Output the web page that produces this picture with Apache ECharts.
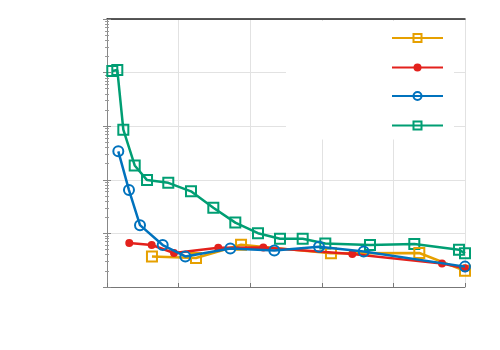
<!DOCTYPE html>
<html>
<head>
<meta charset="utf-8">
<script src="https://cdn.jsdelivr.net/npm/echarts@6/dist/echarts.min.js"></script>
<style>
  html, body { margin: 0; padding: 0; background: #fff; }
  #chart-container { width: 500px; height: 350px; }
</style>
</head>
<body>
<div id="chart-container"></div>
<script>
var dom = document.getElementById("chart-container");
var myChart = echarts.init(dom, null, { renderer: "canvas" });

// values (x on a 0..50 scale, y log)
const orangeX = [6.28, 12.43, 18.72, 31.28, 43.62, 50];
const orangeY = [0.00372, 0.00348, 0.00614, 0.00424, 0.00431, 0.0020];

const redX = [3.11, 6.24, 9.36, 15.54, 21.83, 34.26, 46.79, 50];
const redY = [0.00661, 0.00607, 0.00431, 0.00541, 0.00547, 0.00413, 0.00273, 0.00223];

const blueX = [1.58, 3.07, 4.61, 7.78, 10.94, 17.22, 23.37, 29.61, 35.85, 50];
const blueY = [0.340, 0.0644, 0.01426, 0.00607, 0.00372, 0.00525, 0.00482, 0.00564, 0.00461, 0.0024];

const greenX = [0.74, 1.44, 2.28, 3.87, 5.59, 8.56, 11.73, 14.85, 17.92, 21.09, 24.16, 27.33, 30.49, 36.73, 42.92, 49.16, 50];
const greenY = [10.7, 11.2, 0.861, 0.185, 0.0987, 0.0879, 0.0609, 0.0302, 0.0159, 0.0101, 0.00794, 0.00794, 0.0065, 0.00607, 0.00633, 0.00496, 0.00424];

const seriesNames = ["series 1", "series 2", "series 3", "series 4"];
const colors = ["#E6A000", "#E3211C", "#0072BD", "#009E73"];

const zip = (xs, ys) => xs.map((x, i) => [x, ys[i]]);

const hollow = (c) => ({ color: "rgba(255,255,255,0)", borderColor: c, borderWidth: 2 });

var option = {
  animation: false,
  grid: { left: 107, right: 35, top: 19, bottom: 63 },
  legend: {
    orient: "vertical",
    left: 286,
    top: 21,
    padding: [12, 10, 9, 105],
    backgroundColor: "#fff",
    itemWidth: 51,
    itemHeight: 10,
    itemGap: 19.5,
    formatter: () => "",
    data: seriesNames
  },
  xAxis: [
    {
      type: "value",
      min: 0,
      max: 50,
      interval: 10,
      axisLabel: { show: false },
      axisLine: { lineStyle: { color: "#777", width: 1 } },
      axisTick: { inside: true, length: 4, lineStyle: { color: "#777" } },
      splitLine: { show: true, lineStyle: { color: "#e2e2e2", width: 1 } }
    },
    {
      type: "value",
      position: "top",
      min: 0,
      max: 50,
      interval: 10,
      axisLabel: { show: false },
      axisLine: { show: true, lineStyle: { color: "#222", width: 1.5 } },
      axisTick: { show: false },
      splitLine: { show: false }
    }
  ],
  yAxis: [
    {
      type: "log",
      logBase: 10,
      min: 0.001,
      max: 100,
      axisLabel: { show: false },
      axisLine: { show: true, lineStyle: { color: "#888", width: 1 } },
      axisTick: { inside: true, length: 4, lineStyle: { color: "#888" } },
      minorTick: { show: true, splitNumber: 9, length: 2, lineStyle: { color: "#999" } },
      splitLine: { show: true, lineStyle: { color: "#e2e2e2", width: 1 } }
    },
    {
      type: "log",
      logBase: 10,
      position: "right",
      min: 0.001,
      max: 100,
      axisLabel: { show: false },
      axisLine: { show: true, lineStyle: { color: "#888", width: 1 } },
      axisTick: { inside: true, length: 4, lineStyle: { color: "#888" } },
      minorTick: { show: true, splitNumber: 9, length: 2, lineStyle: { color: "#999" } },
      splitLine: { show: false }
    }
  ],
  series: [
    {
      name: seriesNames[0],
      type: "line",
      data: zip(orangeX, orangeY),
      symbol: "rect",
      symbolSize: 10,
      lineStyle: { color: colors[0], width: 2.5 },
      itemStyle: hollow(colors[0]),
      z: 2
    },
    {
      name: seriesNames[1],
      type: "line",
      data: zip(redX, redY),
      symbol: "circle",
      symbolSize: 8,
      lineStyle: { color: colors[1], width: 2.5 },
      itemStyle: { color: colors[1] },
      z: 3
    },
    {
      name: seriesNames[2],
      type: "line",
      data: zip(blueX, blueY),
      symbol: "circle",
      symbolSize: 10,
      lineStyle: { color: colors[2], width: 2.5 },
      itemStyle: hollow(colors[2]),
      z: 4
    },
    {
      name: seriesNames[3],
      type: "line",
      data: zip(greenX, greenY),
      symbol: "rect",
      symbolSize: 10,
      lineStyle: { color: colors[3], width: 2.5 },
      itemStyle: hollow(colors[3]),
      z: 1
    }
  ]
};

myChart.setOption(option);
window.addEventListener("resize", myChart.resize);
</script>
</body>
</html>
